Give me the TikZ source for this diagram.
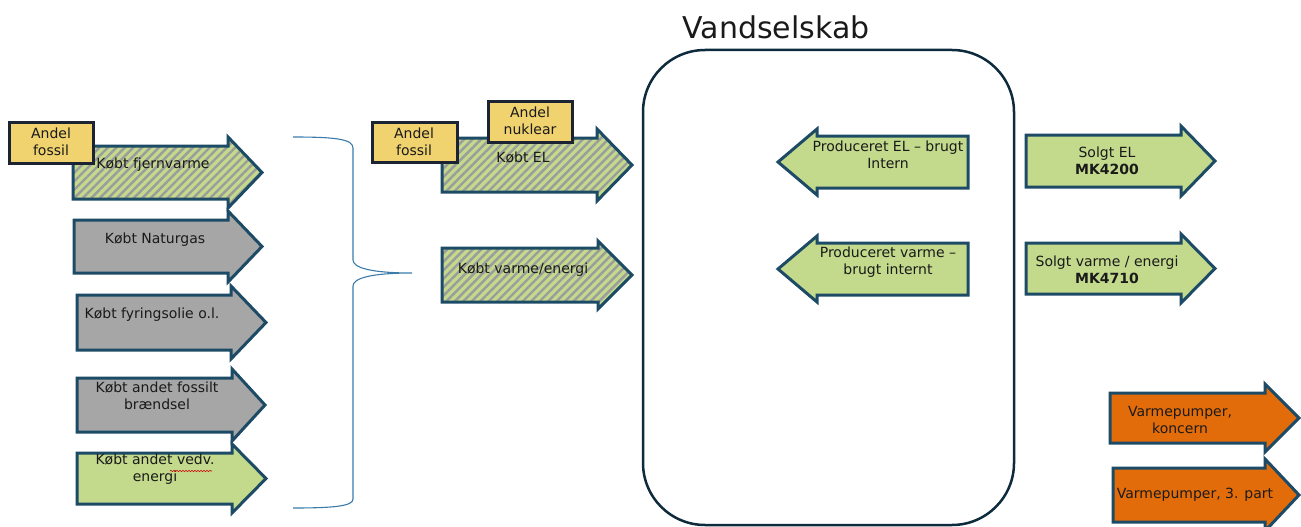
\documentclass[tikz,border=0pt]{standalone}
\usepackage{fontspec}
\setmainfont{DejaVu Sans}
\usetikzlibrary{patterns.meta,decorations.pathmorphing}
\definecolor{agreen}{HTML}{C3D98C}
\definecolor{agray}{HTML}{A6A6A6}
\definecolor{aorange}{HTML}{E36C0A}
\definecolor{aborder}{HTML}{1D4B66}
\definecolor{ayellow}{HTML}{F0D26E}
\definecolor{yborder}{HTML}{1C2433}
\definecolor{bigborder}{HTML}{0E2A3D}
\definecolor{brace}{HTML}{3A7BAA}
\definecolor{stripe}{HTML}{9C9C9C}
\definecolor{txt}{HTML}{1A1A1A}
\newcommand\RArr[7]{\draw[#1] (#2,#3) -- (#4,#3) -- (#4,#3-#7) -- (#6,{(#3+#5)/2}) -- (#4,#5+#7) -- (#4,#5) -- (#2,#5) -- cycle;}
\newcommand\LArr[7]{\draw[#1] (#2,#3) -- (#4,#3) -- (#4,#3-#7) -- (#6,{(#3+#5)/2}) -- (#4,#5+#7) -- (#4,#5) -- (#2,#5) -- cycle;}
\tikzset{
  arr/.style={draw=aborder, line width=3pt, line join=miter},
  greenarr/.style={arr, fill=agreen},
  grayarr/.style={arr, fill=agray},
  orangearr/.style={arr, fill=aorange},
  hatcharr/.style={arr, preaction={fill=agreen}, pattern={Lines[angle=45,distance=6pt,line width=2.4pt]}, pattern color=stripe},
  lbl/.style={inner sep=0pt, align=center, text=txt, font=\fontsize{14}{17}\selectfont},
  andelbox/.style={draw=yborder, line width=3pt, fill=ayellow},
}
\begin{document}
\begin{tikzpicture}[x=1pt,y=-1pt]
\useasboundingbox (0,0) rectangle (1301,527);

% title and big box
\node[lbl, font=\fontsize{30}{34}\selectfont] (title) at (776,27) {Vandselskab};
\draw[bigborder, line width=2.5pt, rounded corners=62pt] (643,50) rectangle (1014,525);

% left column
\RArr{hatcharr}{73}{146}{228}{199}{262}{9}
\node[lbl] (fjern) at (153,165) {Købt fjernvarme};
\draw[andelbox] (9,122) rectangle (93,163);
\node[lbl] (af1) at (51,142) {Andel\\fossil};

\RArr{grayarr}{74}{220}{228}{273}{262}{9}
\node[lbl] (natur) at (155,240) {Købt Naturgas};

\RArr{grayarr}{77}{295}{231}{350}{266}{9}
\node[lbl] (fyr) at (152,315) {Købt fyringsolie o.l.};

\RArr{grayarr}{77}{378}{232}{432}{265}{9}
\node[lbl] (fossilt) at (157,396) {Købt andet fossilt\\brændsel};

\RArr{greenarr}{77}{453}{232}{504}{266}{9}
\node[lbl] (vedv) at (155,469) {Købt andet vedv.\\energi};
\draw[red!80!black, line width=0.6pt, decorate, decoration={snake, amplitude=0.6pt, segment length=3pt}] (170,471) -- (212,471);

% brace
\draw[brace, line width=1.1pt] (293,137) .. controls (335,137) and (353,139) .. (353,148)
  -- (353,260) .. controls (353,268) and (372,273) .. (412,273)
  .. controls (372,273) and (353,278) .. (353,286)
  -- (353,499) .. controls (353,506) and (335,508) .. (293,508);

% middle
\RArr{hatcharr}{442}{138}{597}{192}{632}{9}
\node[lbl] (el) at (523,158) {Købt EL};
\draw[andelbox] (372,122) rectangle (457,162);
\node[lbl] (af2) at (414,142) {Andel\\fossil};
\draw[andelbox] (488,101) rectangle (572,142);
\node[lbl] (nuk) at (530,121) {Andel\\nuklear};

\RArr{hatcharr}{442}{248}{598}{302}{632}{7}
\node[lbl] (varme) at (523,270) {Købt varme/energi};

% produced
\LArr{greenarr}{968}{136}{817}{188}{778}{7}
\node[lbl] (pel) at (888,155) {Produceret EL – brugt\\Intern};
\LArr{greenarr}{968}{243}{817}{295}{778}{7}
\node[lbl] (pvarme) at (888,262) {Produceret varme –\\brugt internt};

% sold
\RArr{greenarr}{1026}{135}{1181}{187}{1215}{9}
\node[lbl] (sel) at (1107,161) {Solgt EL\\\textbf{MK4200}};
\RArr{greenarr}{1026}{243}{1181}{294}{1215}{9}
\node[lbl] (svarme) at (1107,270) {Solgt varme / energi\\\textbf{MK4710}};

% heat pumps
\RArr{orangearr}{1110}{393}{1265}{443}{1299}{9}
\node[lbl] (vpk) at (1180,420) {Varmepumper,\\koncern};
\RArr{orangearr}{1113}{468}{1265}{522}{1299}{9}
\node[lbl] (vp3) at (1195,495) {Varmepumper, 3. part};
\end{tikzpicture}
\end{document}
